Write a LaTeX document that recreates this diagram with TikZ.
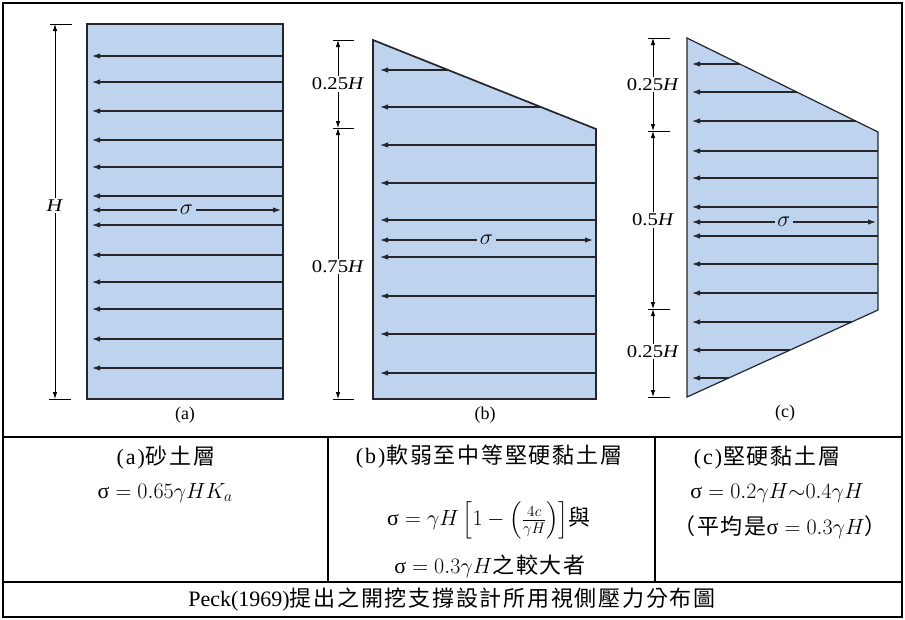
\RequirePackage{fix-cm}
\documentclass[tikz,border=0pt]{standalone}
\usepackage{amsmath}
\usepackage{graphicx}
\usepackage{fontspec}
\setmainfont{Liberation Serif}
\newfontfamily\cjk[LetterSpace=8]{Noto Sans CJK TC}
\usetikzlibrary{arrows.meta}
\definecolor{soil}{RGB}{190,211,238}
\definecolor{ink}{RGB}{38,38,42}
\newcommand{\zh}[1]{{\cjk #1}}
\newcommand{\plab}[1]{\kern2pt(\kern2pt#1\kern2pt)\kern1pt}
\begin{document}
\begin{tikzpicture}[x=1pt,y=-1pt,
  panel/.style={fill=soil, draw=ink, line width=1.7pt, line join=miter},
  press/.style={draw=ink, line width=1.2pt, -{Latex[length=8pt,width=5.5pt]}},
  twoway/.style={draw=ink, line width=1.2pt, {Latex[length=8pt,width=5.5pt]}-{Latex[length=8pt,width=5.5pt]}},
  dimline/.style={draw=black, line width=0.8pt, {Latex[length=7pt,width=4.5pt]}-{Latex[length=7pt,width=4.5pt]}},
  tickline/.style={draw=black, line width=0.8pt},
  dimlab/.style={fill=white, inner sep=1.5pt, font=\fontsize{18}{20}\selectfont},
  siglab/.style={fill=soil, inner sep=2.5pt, font=\fontsize{22}{24}\selectfont},
  sublab/.style={inner sep=0pt, font=\fontsize{18}{20}\selectfont},
  frame/.style={draw=black, line width=1.3pt},
  celltext/.style={inner sep=0pt, font=\fontsize{22}{26}\selectfont}]
\useasboundingbox (0,0) rectangle (905,619);
\fill[white] (0,0) rectangle (905,619);

% ---------------- panel (a)
\draw[panel] (87,24) rectangle (283,399);
\foreach \yy in {56,82,111,140,167,196,225,255,282,309,339,368}
  \draw[press] (283,\yy) -- (92,\yy);
\coordinate (aL) at (92,210);
\coordinate (aR) at (281,210);
\draw[twoway] (aL) -- node[siglab] (asig) {$\sigma$} (aR);
\coordinate (aT) at (55,24);
\coordinate (aB) at (55,399);
\draw[tickline] (50,24) -- (72,24);
\draw[tickline] (49,399) -- (71,399);
\draw[dimline] (aT) -- node[dimlab, pos=0.485] (aH) {\scalebox{1.2}[1]{\textit{H}}} (aB);
\node[sublab] (acap) at (185,415) {(a)};

% ---------------- panel (b)
\draw[panel] (373,40) -- (596,129) -- (596,399) -- (373,399) -- cycle;
\foreach \yy in {70,107}{
  \pgfmathsetmacro{\xx}{373+(\yy-40)*223/89}
  \draw[press] (\xx,\yy) -- (380,\yy);
}
\foreach \yy in {145,183,220,257,296,334,373}
  \draw[press] (596,\yy) -- (380,\yy);
\coordinate (bL) at (380,240);
\coordinate (bR) at (593,240);
\draw[twoway] (bL) -- node[siglab] (bsig) {$\sigma$} (bR);
\coordinate (bT) at (338,40);
\coordinate (bM) at (338,128);
\coordinate (bB) at (338,399);
\draw[tickline] (333,40) -- (354,40);
\draw[tickline] (333,128) -- (354,128);
\draw[tickline] (333,399) -- (354,399);
\draw[dimline] (bT) -- node[dimlab] (bq) {\scalebox{1.15}[1]{0.25\textit{H}}} (bM);
\draw[dimline] (bM) -- node[dimlab, pos=0.51] (bt) {\scalebox{1.15}[1]{0.75\textit{H}}} (bB);
\node[sublab] (bcap) at (485,415) {(b)};

% ---------------- panel (c)
\draw[panel, line width=1.2pt] (687,38) -- (878,132) -- (878,310) -- (687,397) -- cycle;
\foreach \yy in {64,92,121}{
  \pgfmathsetmacro{\xx}{687+(\yy-38)*191/94}
  \draw[press] (\xx,\yy) -- (692,\yy);
}
\foreach \yy in {151,178,207,236,264,293}
  \draw[press] (878,\yy) -- (692,\yy);
\foreach \yy in {322,350,378}{
  \pgfmathsetmacro{\xx}{687+(397-\yy)*191/87}
  \draw[press] (\xx,\yy) -- (692,\yy);
}
\coordinate (cL) at (692,222);
\coordinate (cR) at (876,222);
\draw[twoway] (cL) -- node[siglab] (csig) {$\sigma$} (cR);
\coordinate (cT) at (653,38);
\coordinate (cM1) at (653,131);
\coordinate (cM2) at (653,309);
\coordinate (cB) at (653,397);
\foreach \yy in {38,131,309,397}
  \draw[tickline] (648,\yy) -- (670,\yy);
\draw[dimline] (cT) -- node[dimlab] (cq1) {\scalebox{1.15}[1]{0.25\textit{H}}} (cM1);
\draw[dimline] (cM1) -- node[dimlab] (ch) {\scalebox{1.15}[1]{0.5\textit{H}}} (cM2);
\draw[dimline] (cM2) -- node[dimlab, pos=0.48] (cq2) {\scalebox{1.15}[1]{0.25\textit{H}}} (cB);
\node[sublab] (ccap) at (785,413) {(c)};

% ---------------- table
\draw[frame] (3,3) rectangle (902,617);
\draw[frame] (3,437) -- (902,437);
\draw[frame] (3,582) -- (902,582);
\draw[frame] (328,437) -- (328,582);
\draw[frame] (655,437) -- (655,582);

\node[celltext] (ta) at (165,458) {\plab{a}\zh{砂土層}};
\node[celltext] (fa) at (165,493) {σ${}= 0.65\gamma HK_a$};

\node[celltext] (tb) at (488,457) {\plab{b}\zh{軟弱至中等堅硬黏土層}};
\node[celltext] (fb) at (489,520) {σ${}=\gamma H\left[1-\left(\tfrac{4c}{\gamma H}\right)\right]$\zh{與}};
\node[celltext] (gb) at (490,566) {σ${}= 0.3\gamma H$\zh{之較大者}};

\node[celltext] (tc) at (766,458) {\plab{c}\zh{堅硬黏土層}};
\node[celltext] (fc) at (777,493) {σ${}= 0.2\gamma H{\sim}0.4\gamma H$};
\node[celltext] (gc) at (780,527) {\zh{（平均是}σ${}= 0.3\gamma H$\zh{）}};

\node[celltext] (cap) at (452,600) {Peck(1969)\zh{提出之開挖支撐設計所用視側壓力分布圖}};
\end{tikzpicture}
\end{document}
